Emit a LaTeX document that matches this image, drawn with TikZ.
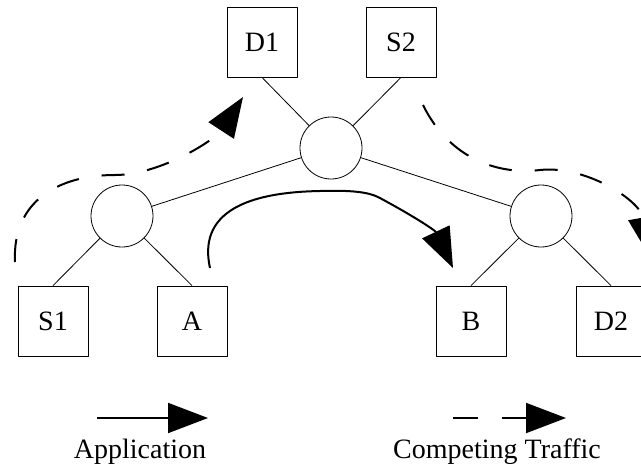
\documentclass[tikz,border=0pt]{standalone}
\usepackage{fontspec}
\setmainfont{Liberation Serif}
\usetikzlibrary{positioning,arrows.meta}
\tikzset{
  host/.style  ={draw, line width=0.8pt, minimum size=70pt, inner sep=0pt,
                 font=\fontsize{28}{30}\selectfont},
  router/.style={draw, circle, line width=0.8pt, minimum size=62pt, inner sep=0pt},
  link/.style  ={line width=0.8pt},
  app/.style   ={line width=2pt, -{Triangle[length=40pt,width=30pt]}},
  cross/.style ={line width=2pt, dash pattern=on 23pt off 23pt, -{Triangle[length=40pt,width=30pt]}},
  legtext/.style={font=\fontsize{28}{30}\selectfont, inner sep=0pt},
}

\begin{document}
\begin{tikzpicture}[x=1pt, y=-1pt, line cap=butt, line join=round]
  \clip (0,0) rectangle (641,467);
  \fill[white] (0,0) rectangle (641,467);

  %--- Routers ---
  \node[router] (rT) at (331,148) {};
  \node[router] (rL) at (122,216) {};
  \node[router] (rR) at (541,216) {};

  %--- Hosts ---
  \node[host] (D1) at (262,42)  {D1};
  \node[host] (S2) at (401,42)  {S2};
  \node[host] (S1) at (53,321)  {S1};
  \node[host] (A)  at (192,321) {A};
  \node[host] (B)  at (471,321) {B};
  \node[host] (D2) at (611,321) {D2};

  %--- Links ---
  \draw[link] (D1.south) -- (rT);
  \draw[link] (S2.south) -- (rT);
  \draw[link] (rL) -- (rT);
  \draw[link] (rR) -- (rT);
  \draw[link] (rL) -- (S1.north);
  \draw[link] (rL) -- (A.north);
  \draw[link] (rR) -- (B.north);
  \draw[link] (rR) -- (D2.north);

  %--- Application flow A -> B ---
  \coordinate (appS) at (210,268);
  \coordinate (appE) at (453,268);
  \draw[app] (appS) .. controls (196,205) and (262,192) .. (320,191)
    .. controls (350,190) and (368,192) .. (378,197)
    .. controls (410,214) and (435,230) .. (appE);

  %--- Competing traffic S1 -> D1 and S2 -> D2 ---
  \coordinate (c1S) at (15,262);
  \coordinate (c1E) at (243,97);
  \draw[cross] (c1S) .. controls (12,200) and (60,175) .. (115,175)
    .. controls (160,175) and (215,140) .. (c1E);

  \coordinate (c2S) at (423,105);
  \coordinate (c2E) at (650,257);
  \draw[cross] (c2S) .. controls (450,160) and (500,175) .. (540,170)
    .. controls (585,165) and (640,200) .. (c2E);

  %--- Legend ---
  \coordinate (la) at (97,418);
  \coordinate (lb) at (208,418);
  \draw[app] (la) -- (lb);
  \node[legtext] (appL) at (140,452) {Application};

  \coordinate (lc) at (453,418);
  \coordinate (ld) at (566,418);
  \draw[cross, dash pattern=on 25pt off 24pt] (lc) -- (ld);
  \node[legtext] (crossL) at (497,452) {Competing Traffic};
\end{tikzpicture}
\end{document}
